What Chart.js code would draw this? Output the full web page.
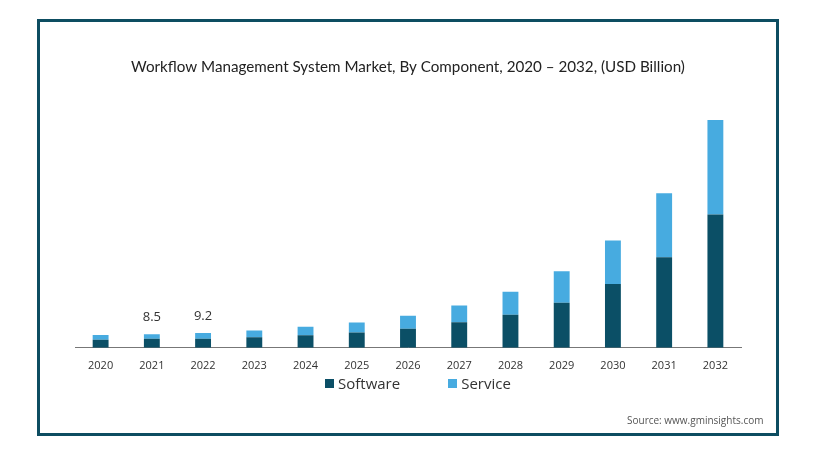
<!DOCTYPE html>
<html>
<head>
<meta charset="utf-8">
<script src="https://cdn.jsdelivr.net/npm/chart.js@4.4.1/dist/chart.umd.min.js"></script>
<style>
    body { margin: 0; background: #fff; }
    #frame {
        position: absolute; left: 37px; top: 19px;
        width: 736px; height: 411px;
        border: 3px solid #0d4d61;
    }
    #wrap { position: absolute; left: 0; top: 0; width: 817px; height: 454px; }
    #legend {
        position: absolute; left: 325px; top: 373px;
        font-family: "Open Sans", sans-serif; font-size: 15px; color: #333;
        display: flex; align-items: center;
    }
    #legend .item { display: flex; align-items: center; margin-right: 48px; }
    #legend .box { width: 9px; height: 9px; margin-right: 4px; }
    #source {
        position: absolute; left: 627px; top: 413px;
        font-family: "Open Sans", sans-serif; font-size: 10px; color: #555;
    }
</style>
</head>
<body>
<div id="frame"></div>
<div id="wrap"><canvas id="market-chart" width="817" height="454"></canvas></div>
<div id="legend"></div>
<div id="source">Source: www.gminsights.com</div>

<script>
const years = ['2020', '2021', '2022', '2023', '2024', '2025', '2026', '2027', '2028', '2029', '2030', '2031', '2032'];
const software = [5.0, 5.6, 5.6, 6.6, 7.9, 9.6, 11.9, 16.0, 20.6, 28.1, 39.8, 56.4, 83.1];
const service = [3.0, 2.9, 3.6, 4.2, 5.2, 6.2, 8.1, 10.3, 14.4, 19.6, 27.1, 39.9, 59.0];
const totalLabels = ['', '8.5', '9.2', '', '', '', '', '', '', '', '', '', ''];

const softwareColor = '#0b4f66';
const serviceColor = '#47abe0';

const totalLabelPlugin = {
    id: 'totalLabels',
    afterDatasetsDraw(chart) {
        const ctx = chart.ctx;
        const x = chart.scales.x;
        const y = chart.scales.y;
        ctx.save();
        ctx.font = '13px "Open Sans"';
        ctx.fillStyle = '#333';
        ctx.textAlign = 'center';
        ctx.textBaseline = 'middle';
        totalLabels.forEach((txt, i) => {
            if (!txt) return;
            ctx.fillText(txt, x.getPixelForValue(i), y.getPixelForValue(software[i] + service[i]) - 16.5);
        });
        ctx.restore();
    }
};

const drawMarketChart = () => {
    return new Chart(document.getElementById('market-chart').getContext('2d'), {
        type: 'bar',
        data: {
            labels: years,
            datasets: [{
                label: 'Software',
                data: software,
                backgroundColor: softwareColor,
                barPercentage: 0.62,
                categoryPercentage: 0.5,
            }, {
                label: 'Service',
                data: service,
                backgroundColor: serviceColor,
                barPercentage: 0.62,
                categoryPercentage: 0.5,
            }]
        },
        options: {
            responsive: false,
            animation: false,
            layout: {
                padding: { left: 75, right: 76, top: 0, bottom: 71 }
            },
            plugins: {
                legend: { display: false },
                tooltip: { enabled: false },
                title: {
                    display: true,
                    text: 'Workflow Management System Market, By Component, 2020 – 2032, (USD Billion)',
                    color: '#222',
                    font: { family: 'Lato', size: 15.2, weight: 'normal' },
                    padding: { top: 58, bottom: 31 },
                },
            },
            scales: {
                x: {
                    stacked: true,
                    grid: { display: false, drawTicks: false },
                    border: { display: true, color: '#777', width: 1 },
                    ticks: {
                        color: '#333',
                        padding: 11,
                        font: { family: 'Open Sans', size: 11 },
                    },
                },
                y: {
                    stacked: true,
                    display: false,
                    min: 0,
                    max: 150,
                }
            }
        },
        plugins: [totalLabelPlugin]
    });
};

const buildLegend = (chart) => {
    const legend = document.getElementById('legend');
    chart.data.datasets.forEach((ds) => {
        const item = document.createElement('div');
        item.className = 'item';
        const box = document.createElement('span');
        box.className = 'box';
        box.style.background = ds.backgroundColor;
        item.appendChild(box);
        item.appendChild(document.createTextNode(ds.label));
        legend.appendChild(item);
    });
};

const marketChart = drawMarketChart();
buildLegend(marketChart);
</script>
</body>
</html>
